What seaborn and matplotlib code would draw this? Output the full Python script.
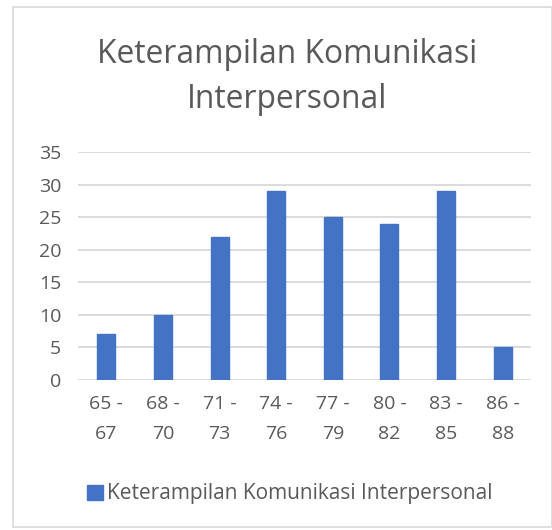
import matplotlib
matplotlib.use("Agg")
import matplotlib.pyplot as plt
import seaborn as sns
import pandas as pd
from matplotlib.patches import Patch, Rectangle

categories = ["65 -\n67", "68 -\n70", "71 -\n73", "74 -\n76", "77 -\n79", "80 -\n82", "83 -\n85", "86 -\n88"]
values = [7, 10, 22, 29, 25, 24, 29, 5]
series_name = "Keterampilan Komunikasi Interpersonal"
title = "Keterampilan Komunikasi\nInterpersonal"

sns.set_theme(style="white")
plt.rcParams['font.family'] = ['Open Sans', 'DejaVu Sans']

W, H = 552, 530
fig = plt.figure(figsize=(W / 100, H / 100), dpi=100)
fig.patch.set_facecolor("white")

# chart border
fig.patches.append(Rectangle((13 / W, 1 - 527 / H), (W - 13) / W, (527 - 7) / H,
                             transform=fig.transFigure, fill=False,
                             edgecolor="#D9D9D9", linewidth=1.2))

ax = fig.add_axes([78 / W, 1 - 380 / H, (531 - 78) / W, (380 - 152) / H])
df = pd.DataFrame({"cat": categories, "val": values})
sns.barplot(data=df, x="cat", y="val", color="#4472C4", width=0.32, ax=ax,
            saturation=1, edgecolor="#4472C4")

ax.set_ylim(0, 35)
ax.set_yticks(range(0, 36, 5))
ax.set_xlim(-0.5, len(categories) - 0.5)
ax.set_xlabel("")
ax.set_ylabel("")
ax.yaxis.grid(True, color="#D9D9D9", linewidth=1.3)
ax.set_axisbelow(True)
for s in ax.spines.values():
    s.set_visible(False)
ax.tick_params(axis="both", length=0, colors="#595959", labelsize=14)
ax.tick_params(axis="y", pad=12)
ax.tick_params(axis="x", pad=11)
for lab in ax.get_xticklabels():
    lab.set_linespacing(1.85)

fig.text(287 / W, 1 - 77 / H, title, ha="center", va="center", fontsize=22.9,
         color="#595959", linespacing=1.5)

fig.legend(handles=[Patch(facecolor="#4472C4", edgecolor="#4472C4", label=series_name)],
           loc="center left", bbox_to_anchor=(79 / W, 1 - 494 / H), frameon=False,
           fontsize=15, labelcolor="#595959", handlelength=0.75, handleheight=0.75,
           handletextpad=0.2, borderaxespad=0)

fig.savefig("out.png", dpi=100)
